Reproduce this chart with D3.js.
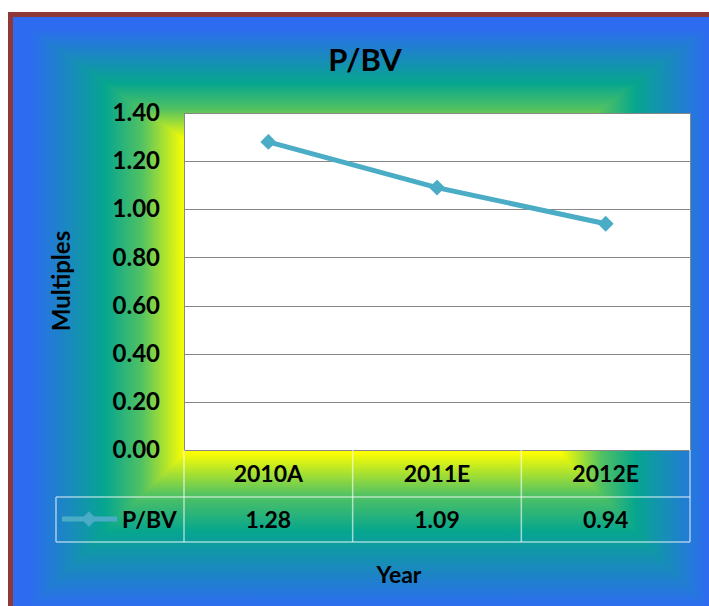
<!DOCTYPE html>
<html>
<head>
<meta charset="utf-8">
<script src="https://cdn.jsdelivr.net/npm/d3@7"></script>
<style>
  body { margin: 0; background: #fff; }
  text { font-family: Lato, "Open Sans", sans-serif; font-weight: bold; fill: #000; }
</style>
</head>
<body>
<div id="my_dataviz"></div>
<script>
// chart data
var categories = ["2010A", "2011E", "2012E"];
var seriesName = "P/BV";
var values = [1.28, 1.09, 0.94];
var yTicks = [0, 0.2, 0.4, 0.6, 0.8, 1.0, 1.2, 1.4];

var W = 709, H = 606;
var margin = { top: 113, right: 19, bottom: 156, left: 184 },
  width = W - margin.left - margin.right,
  height = H - margin.top - margin.bottom;

var lineColor = "#4bacc6";

var svg = d3.select("#my_dataviz")
  .append("svg")
  .attr("width", W)
  .attr("height", H);

// rectangular "from centre" gradient background
// left/right drawn as full strips, top/bottom trapezoids on top of them
var outer = { x0: 13, y0: 17, x1: 724, y1: 624 },
  inner = { x0: 185, y0: 140, x1: 560, y1: 452 };
var stops = [
  [0, "#ffff00"], [0.25, "#52c262"], [0.46, "#06a68e"], [0.9, "#2d6cf0"], [1, "#2d6cf0"]
];
var defs = svg.append("defs");
var sides = [
  { id: "gL", from: [inner.x0, 0], to: [outer.x0, 0],
    pts: [[outer.x0, outer.y0], [inner.x0, outer.y0], [inner.x0, outer.y1], [outer.x0, outer.y1]] },
  { id: "gR", from: [inner.x1, 0], to: [outer.x1, 0],
    pts: [[outer.x1, outer.y0], [inner.x1, outer.y0], [inner.x1, outer.y1], [outer.x1, outer.y1]] },
  { id: "gT", from: [0, inner.y0], to: [0, outer.y0],
    pts: [[outer.x0, outer.y0], [outer.x1, outer.y0], [inner.x1, inner.y0], [inner.x0, inner.y0]] },
  { id: "gB", from: [0, inner.y1], to: [0, outer.y1],
    pts: [[outer.x0, outer.y1], [outer.x1, outer.y1], [inner.x1, inner.y1], [inner.x0, inner.y1]] }
];
sides.forEach(function (s) {
  var g = defs.append("linearGradient")
    .attr("id", s.id)
    .attr("gradientUnits", "userSpaceOnUse")
    .attr("x1", s.from[0]).attr("y1", s.from[1])
    .attr("x2", s.to[0]).attr("y2", s.to[1]);
  stops.forEach(function (st) {
    g.append("stop").attr("offset", st[0]).attr("stop-color", st[1]);
  });
});

svg.append("rect")
  .attr("x", inner.x0 - 1).attr("y", inner.y0 - 1)
  .attr("width", inner.x1 - inner.x0 + 2).attr("height", inner.y1 - inner.y0 + 2)
  .attr("fill", "#ffff00");

svg.append("g")
  .selectAll("polygon")
  .data(sides)
  .enter().append("polygon")
  .attr("points", function (d) { return d.pts.map(function (p) { return p.join(","); }).join(" "); })
  .attr("fill", function (d) { return "url(#" + d.id + ")"; });

// chart border
svg.append("rect")
  .attr("x", 10.5).attr("y", 14.5)
  .attr("width", 720).attr("height", 620)
  .attr("fill", "none")
  .attr("stroke", "#8e3937")
  .attr("stroke-width", 5);

// title
svg.append("text")
  .attr("x", 365).attr("y", 71)
  .attr("text-anchor", "middle")
  .style("font-size", "31px")
  .text(seriesName);

var plot = svg.append("g")
  .attr("transform", "translate(" + margin.left + "," + margin.top + ")");

var x = d3.scaleBand()
  .domain(categories)
  .range([0, width]);

var y = d3.scaleLinear()
  .domain([0, 1.4])
  .range([height, 0]);

plot.append("rect")
  .attr("width", width)
  .attr("height", height)
  .attr("fill", "#fff");

// gridlines
plot.append("g")
  .call(d3.axisLeft(y).tickValues(yTicks).tickSize(-width).tickFormat(""))
  .call(function (g) { g.select(".domain").remove(); })
  .selectAll("line")
  .attr("stroke", "#878787")
  .attr("stroke-width", 1)
  .attr("shape-rendering", "crispEdges");

plot.append("rect")
  .attr("width", width)
  .attr("height", height)
  .attr("fill", "none")
  .attr("stroke", "#878787")
  .attr("shape-rendering", "crispEdges");

// y axis labels
plot.append("g")
  .call(d3.axisLeft(y).tickValues(yTicks).tickSize(0).tickPadding(24).tickFormat(d3.format(".2f")))
  .call(function (g) { g.select(".domain").remove(); })
  .selectAll("text")
  .style("font-size", "24px")
  .style("font-family", "Lato, sans-serif")
  .style("font-weight", "bold")
  .attr("fill", "#000");

svg.append("text")
  .attr("transform", "rotate(-90)")
  .attr("x", -281)
  .attr("y", 70)
  .attr("text-anchor", "middle")
  .style("font-size", "24px")
  .text("Multiples");

// line + markers
var line = d3.line()
  .x(function (d, i) { return x(categories[i]) + x.bandwidth() / 2; })
  .y(function (d) { return y(d); });

plot.append("path")
  .datum(values)
  .attr("d", line)
  .attr("fill", "none")
  .attr("stroke", lineColor)
  .attr("stroke-width", 5);

var diamond = d3.symbol().type(d3.symbolDiamond2).size(110);
plot.selectAll(".marker")
  .data(values)
  .enter().append("path")
  .attr("class", "marker")
  .attr("d", diamond)
  .attr("transform", function (d, i) {
    return "translate(" + (x(categories[i]) + x.bandwidth() / 2) + "," + y(d) + ")";
  })
  .attr("fill", lineColor)
  .attr("stroke", lineColor)
  .attr("stroke-width", 2);

// data table
var tableLeft = 56 - margin.left;
var row1 = height + 47, row2 = height + 92;
var tbl = plot.append("g")
  .attr("stroke", "rgba(255,255,255,0.6)")
  .attr("stroke-width", 1.5)
  .attr("fill", "none");
tbl.append("path")
  .attr("d", "M" + tableLeft + "," + row1 + "H" + width + "M" + tableLeft + "," + row2 + "H" + width +
    "M" + tableLeft + "," + row1 + "V" + row2);
tbl.selectAll(".vline")
  .data([0].concat(categories.map(function (c) { return x(c) + x.bandwidth(); })))
  .enter().append("line")
  .attr("x1", function (d) { return d; })
  .attr("x2", function (d) { return d; })
  .attr("y1", height)
  .attr("y2", row2);

plot.selectAll(".cat")
  .data(categories)
  .enter().append("text")
  .attr("x", function (d) { return x(d) + x.bandwidth() / 2; })
  .attr("y", height + 32)
  .attr("text-anchor", "middle")
  .style("font-size", "23px")
  .text(function (d) { return d; });

plot.selectAll(".val")
  .data(values)
  .enter().append("text")
  .attr("x", function (d, i) { return x(categories[i]) + x.bandwidth() / 2; })
  .attr("y", height + 78)
  .attr("text-anchor", "middle")
  .style("font-size", "23px")
  .text(function (d) { return d3.format(".2f")(d); });

// legend key inside table
var keyY = height + 69;
plot.append("line")
  .attr("x1", 62 - margin.left).attr("x2", 117 - margin.left)
  .attr("y1", keyY).attr("y2", keyY)
  .attr("stroke", lineColor)
  .attr("stroke-width", 5);
plot.append("path")
  .attr("d", diamond)
  .attr("transform", "translate(" + (89 - margin.left) + "," + keyY + ")")
  .attr("fill", lineColor)
  .attr("stroke", lineColor)
  .attr("stroke-width", 1.5);
plot.append("text")
  .attr("x", 122 - margin.left)
  .attr("y", height + 78)
  .style("font-size", "23px")
  .text(seriesName);

// x axis title
svg.append("text")
  .attr("x", 399)
  .attr("y", 583)
  .attr("text-anchor", "middle")
  .style("font-size", "23px")
  .text("Year");
</script>
</body>
</html>
